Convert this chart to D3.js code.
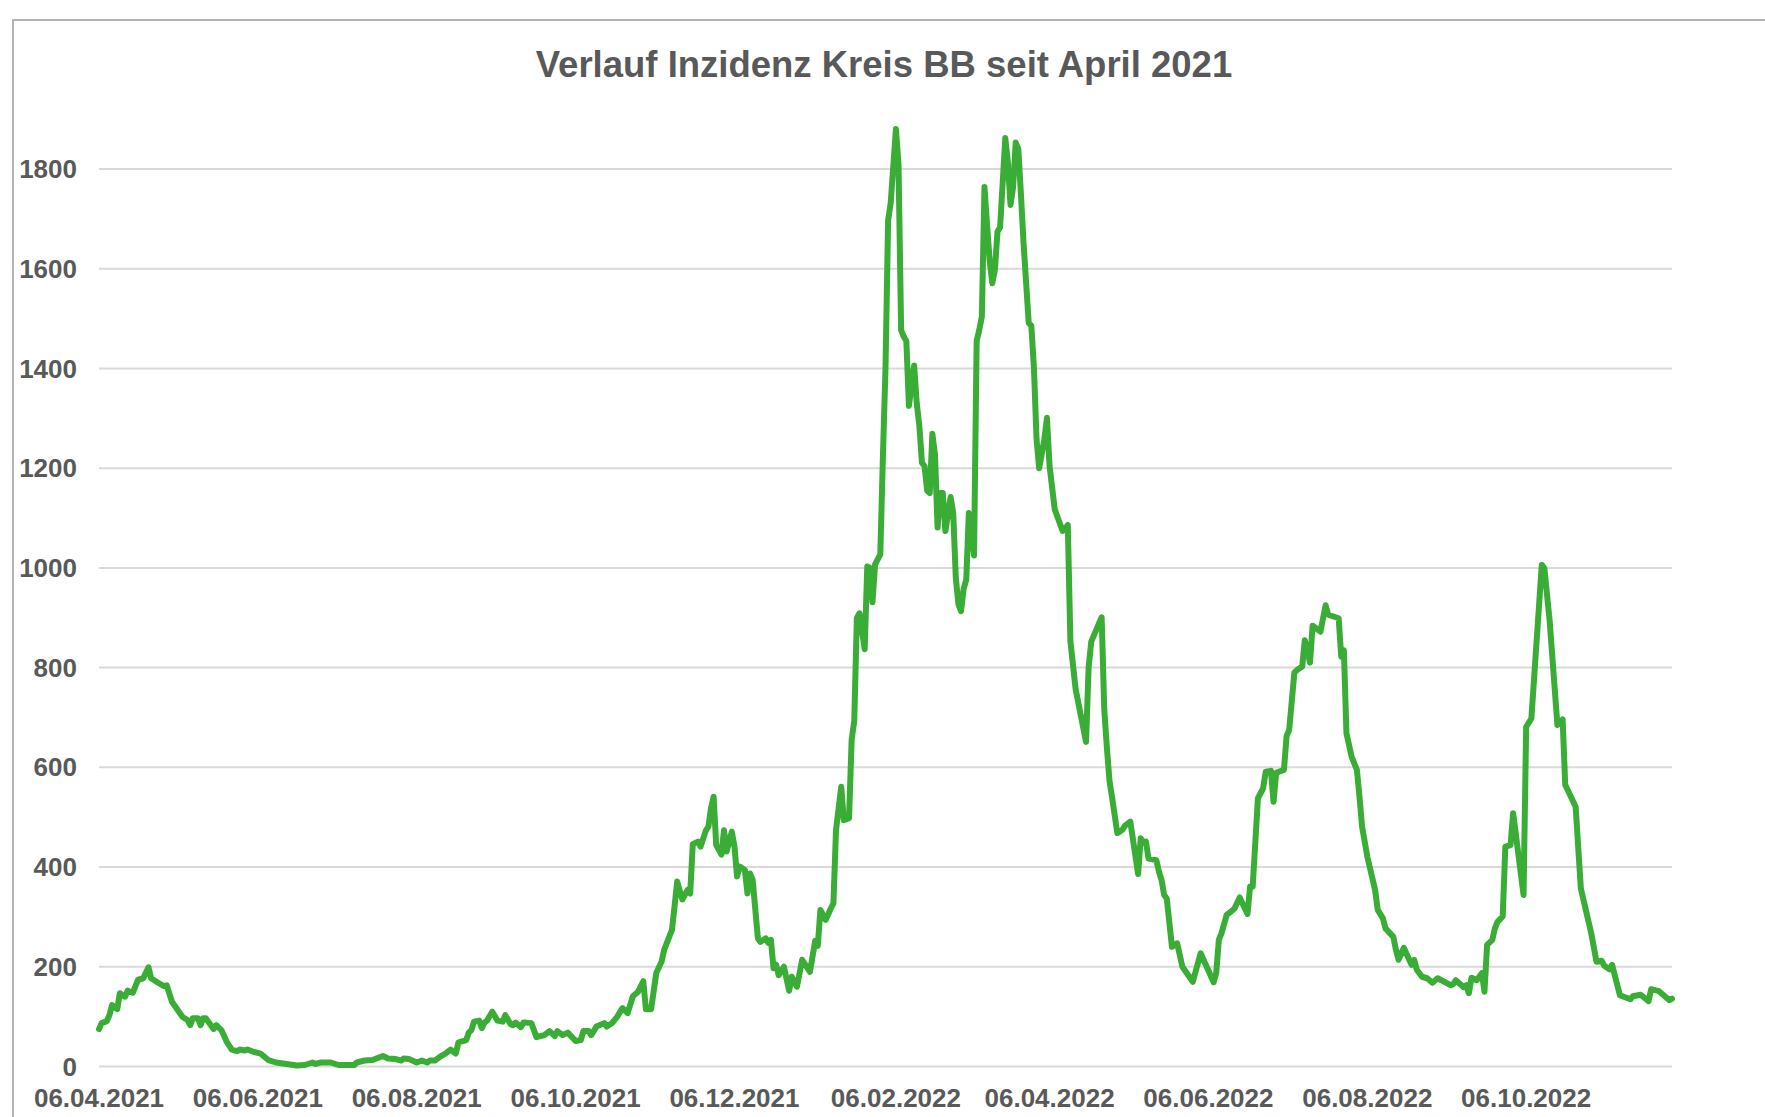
<!DOCTYPE html>
<html>
<head>
<meta charset="utf-8">
<script src="https://cdn.jsdelivr.net/npm/d3@7"></script>
<style>
  body { margin: 0; background: #fff; }
  svg text { font-family: "Liberation Sans", Arial, sans-serif; font-weight: bold; fill: #595959; }
</style>
</head>
<body>
<div id="chart"></div>
<script>
const title = "Verlauf Inzidenz Kreis BB seit April 2021";

// 7-Tage-Inzidenz (one line per month)
const dates = [
  "06.04.2021","07.04.2021","09.04.2021","10.04.2021","11.04.2021","13.04.2021","14.04.2021","16.04.2021","17.04.2021","19.04.2021","21.04.2021","23.04.2021","25.04.2021","26.04.2021","29.04.2021",
  "01.05.2021","02.05.2021","04.05.2021","08.05.2021","10.05.2021","11.05.2021","12.05.2021","14.05.2021","15.05.2021","16.05.2021","17.05.2021","20.05.2021","21.05.2021","23.05.2021","25.05.2021","27.05.2021","29.05.2021","30.05.2021",
  "01.06.2021","02.06.2021","04.06.2021","07.06.2021","10.06.2021","13.06.2021","17.06.2021","21.06.2021","24.06.2021","27.06.2021","28.06.2021","30.06.2021",
  "04.07.2021","07.07.2021","13.07.2021","14.07.2021","17.07.2021","20.07.2021","24.07.2021","26.07.2021","29.07.2021","31.07.2021",
  "01.08.2021","03.08.2021","06.08.2021","08.08.2021","10.08.2021","11.08.2021","13.08.2021","15.08.2021","17.08.2021","19.08.2021","21.08.2021","22.08.2021","23.08.2021","25.08.2021","26.08.2021","27.08.2021","28.08.2021","30.08.2021","31.08.2021",
  "01.09.2021","02.09.2021","04.09.2021","06.09.2021","08.09.2021","09.09.2021","11.09.2021","12.09.2021","13.09.2021","15.09.2021","16.09.2021","17.09.2021","19.09.2021","20.09.2021","21.09.2021","24.09.2021","26.09.2021","28.09.2021","29.09.2021",
  "01.10.2021","03.10.2021","06.10.2021","08.10.2021","09.10.2021","11.10.2021","12.10.2021","14.10.2021","17.10.2021","18.10.2021","20.10.2021","22.10.2021","24.10.2021","26.10.2021","28.10.2021","30.10.2021",
  "01.11.2021","02.11.2021","04.11.2021","06.11.2021","08.11.2021","09.11.2021","12.11.2021","13.11.2021","14.11.2021","16.11.2021","18.11.2021","19.11.2021","20.11.2021","22.11.2021","23.11.2021","25.11.2021","26.11.2021","27.11.2021","28.11.2021","29.11.2021",
  "01.12.2021","02.12.2021","03.12.2021","05.12.2021","06.12.2021","07.12.2021","08.12.2021","10.12.2021","11.12.2021","12.12.2021","13.12.2021","15.12.2021","16.12.2021","18.12.2021","19.12.2021","20.12.2021","21.12.2021","22.12.2021","23.12.2021","25.12.2021","27.12.2021","28.12.2021","30.12.2021",
  "01.01.2022","04.01.2022","06.01.2022","07.01.2022","08.01.2022","10.01.2022","12.01.2022","13.01.2022","14.01.2022","16.01.2022","17.01.2022","19.01.2022","20.01.2022","21.01.2022","22.01.2022","23.01.2022","25.01.2022","26.01.2022","27.01.2022","28.01.2022","29.01.2022","31.01.2022",
  "01.02.2022","02.02.2022","03.02.2022","04.02.2022","06.02.2022","07.02.2022","08.02.2022","09.02.2022","10.02.2022","11.02.2022","13.02.2022","14.02.2022","15.02.2022","16.02.2022","17.02.2022","18.02.2022","19.02.2022","20.02.2022","21.02.2022","22.02.2022","23.02.2022","24.02.2022","25.02.2022","27.02.2022","28.02.2022",
  "01.03.2022","02.03.2022","03.03.2022","04.03.2022","05.03.2022","06.03.2022","08.03.2022","09.03.2022","10.03.2022","11.03.2022","12.03.2022","13.03.2022","14.03.2022","15.03.2022","16.03.2022","17.03.2022","18.03.2022","20.03.2022","21.03.2022","22.03.2022","23.03.2022","24.03.2022","25.03.2022","26.03.2022","27.03.2022","29.03.2022","30.03.2022","31.03.2022",
  "01.04.2022","02.04.2022","04.04.2022","05.04.2022","06.04.2022","08.04.2022","11.04.2022","12.04.2022","13.04.2022","14.04.2022","16.04.2022","20.04.2022","21.04.2022","22.04.2022","26.04.2022","27.04.2022","28.04.2022","29.04.2022","30.04.2022",
  "02.05.2022","04.05.2022","05.05.2022","07.05.2022","10.05.2022","11.05.2022","12.05.2022","13.05.2022","14.05.2022","17.05.2022","18.05.2022","19.05.2022","20.05.2022","21.05.2022","23.05.2022","25.05.2022","27.05.2022","31.05.2022",
  "03.06.2022","08.06.2022","09.06.2022","10.06.2022","11.06.2022","13.06.2022","15.06.2022","16.06.2022","18.06.2022","21.06.2022","22.06.2022","23.06.2022","25.06.2022","27.06.2022","28.06.2022","30.06.2022",
  "01.07.2022","02.07.2022","05.07.2022","06.07.2022","07.07.2022","09.07.2022","10.07.2022","12.07.2022","13.07.2022","15.07.2022","16.07.2022","19.07.2022","21.07.2022","22.07.2022","26.07.2022","27.07.2022","28.07.2022","29.07.2022","31.07.2022",
  "02.08.2022","03.08.2022","04.08.2022","06.08.2022","09.08.2022","10.08.2022","12.08.2022","13.08.2022","16.08.2022","17.08.2022","18.08.2022","20.08.2022","23.08.2022","24.08.2022","25.08.2022","27.08.2022","29.08.2022","31.08.2022",
  "02.09.2022","07.09.2022","08.09.2022","09.09.2022","12.09.2022","13.09.2022","14.09.2022","15.09.2022","17.09.2022","19.09.2022","20.09.2022","21.09.2022","23.09.2022","24.09.2022","25.09.2022","27.09.2022","28.09.2022","30.09.2022",
  "01.10.2022","05.10.2022","06.10.2022","08.10.2022","12.10.2022","13.10.2022","15.10.2022","18.10.2022","20.10.2022","21.10.2022","25.10.2022","27.10.2022","31.10.2022",
  "02.11.2022","04.11.2022","05.11.2022","07.11.2022","08.11.2022","11.11.2022","15.11.2022","16.11.2022","19.11.2022","22.11.2022","23.11.2022","26.11.2022","30.11.2022",
  "01.12.2022"
];

const inzidenz = [
  75, 87, 91, 103, 123, 115, 147, 140, 152, 148, 174, 177, 199, 177, 167,
  161, 163, 130, 100, 93, 83, 97, 97, 83, 97, 97, 75, 83, 73, 50, 34, 31, 34,
  32, 34, 30, 26, 13, 8, 5, 2, 3, 8, 5, 8,
  8, 3, 3, 8, 12, 13, 21, 16, 15, 12,
  16, 15, 8, 12, 8, 12, 12, 20, 26, 34, 26, 48, 50, 53, 68, 73, 90, 92, 77,
  88, 92, 110, 92, 90, 103, 85, 83, 88, 79, 88, 88, 87, 73, 59, 63, 71, 61, 71,
  63, 68, 51, 53, 71, 71, 63, 80, 87, 80, 87, 100, 117, 107, 141, 150,
  171, 115, 115, 188, 210, 234, 274, 321, 371, 335, 354, 347, 446, 451, 441, 473, 481, 518, 541, 444,
  425, 474, 431, 471, 441, 381, 401, 394, 347, 387, 374, 257, 250, 257, 248, 254, 197, 204, 183, 200, 152, 180, 160,
  214, 190, 252, 242, 314, 294, 317, 327, 474, 561, 494, 498, 655, 693, 899, 909, 837, 1003, 1000, 931, 1007, 1027,
  1222, 1401, 1697, 1732, 1880, 1809, 1477, 1464, 1455, 1325, 1406, 1330, 1285, 1211, 1204, 1155, 1150, 1269, 1227, 1081, 1150, 1150, 1074, 1142, 1110,
  980, 927, 913, 958, 976, 1110, 1025, 1455, 1477, 1504, 1764, 1688, 1616, 1571, 1598, 1674, 1683, 1862, 1813, 1728, 1764, 1853, 1840, 1750, 1652, 1491, 1486, 1401,
  1258, 1200, 1258, 1301, 1204, 1117, 1074, 1078, 1086, 853, 757, 651, 801, 852, 901, 716, 640, 573, 540,
  468, 475, 483, 491, 386, 458, 449, 451, 417, 414, 391, 374, 344, 337, 240, 247, 200, 170,
  227, 169, 188, 254, 267, 304, 312, 317, 339, 306, 361, 361, 538, 558, 591, 593,
  531, 589, 595, 662, 675, 790, 795, 802, 855, 810, 884, 872, 925, 906, 899, 822, 835, 668, 621,
  595, 541, 481, 421, 354, 314, 297, 277, 260, 234, 214, 238, 204, 214, 194, 180, 177, 168,
  177, 163, 165, 173, 159, 163, 147, 178, 173, 187, 150, 244, 254, 277, 290, 301, 441, 444,
  508, 344, 681, 698, 1006, 999, 895, 685, 696, 565, 521, 357, 267,
  210, 212, 202, 195, 204, 143, 135, 141, 144, 131, 155, 151, 133,
  136
];

const yTicks = [0, 200, 400, 600, 800, 1000, 1200, 1400, 1600, 1800];
const xTickLabels = ["06.04.2021", "06.06.2021", "06.08.2021", "06.10.2021", "06.12.2021",
  "06.02.2022", "06.04.2022", "06.06.2022", "06.08.2022", "06.10.2022"];

const width = 1765,
  height = 1117,
  margin = { top: 169, bottom: 50.5, left: 99, right: 93 };

const parseDate = d3.timeParse("%d.%m.%Y");

const data = d3.zip(dates, inzidenz).map(([d, v]) => ({ date: parseDate(d), value: v }));

const svg = d3.select("#chart")
  .append("svg")
  .attr("width", width)
  .attr("height", height)
  .style("display", "block")
  .style("background", "#fff");

const x = d3.scaleTime()
  .domain(d3.extent(data, d => d.date))
  .range([margin.left, width - margin.right]);

const y = d3.scaleLinear()
  .domain([0, 1800])
  .range([height - margin.bottom, margin.top]);

// chart frame (cut off at the top/left of the screenshot)
svg.append("path")
  .attr("d", `M13,${height} V20 H${width}`)
  .attr("fill", "none")
  .attr("stroke", "#b4b4b4")
  .attr("stroke-width", 2);

// title
svg.append("text")
  .attr("x", 884)
  .attr("y", 77)
  .attr("text-anchor", "middle")
  .style("font-size", "36.5px")
  .text(title);

// horizontal gridlines + y labels
const yAxis = svg.append("g");

yAxis.selectAll("line")
  .data(yTicks)
  .join("line")
  .attr("x1", margin.left)
  .attr("x2", width - margin.right)
  .attr("y1", d => y(d))
  .attr("y2", d => y(d))
  .attr("stroke", "#d9d9d9")
  .attr("stroke-width", 2);

yAxis.selectAll("text")
  .data(yTicks)
  .join("text")
  .attr("x", margin.left - 22)
  .attr("y", d => y(d))
  .attr("dy", "0.35em")
  .attr("text-anchor", "end")
  .style("font-size", "26px")
  .text(d => d);

// x labels
svg.append("g")
  .selectAll("text")
  .data(xTickLabels)
  .join("text")
  .attr("x", d => x(parseDate(d)))
  .attr("y", height - margin.bottom + 40.5)
  .attr("text-anchor", "middle")
  .style("font-size", "26px")
  .text(d => d);

// the line
const line = d3.line()
  .x(d => x(d.date))
  .y(d => y(d.value));

svg.append("path")
  .datum(data)
  .attr("d", line)
  .attr("fill", "none")
  .attr("stroke", "#3aad37")
  .attr("stroke-width", 6)
  .attr("stroke-linejoin", "round")
  .attr("stroke-linecap", "round");
</script>
</body>
</html>
